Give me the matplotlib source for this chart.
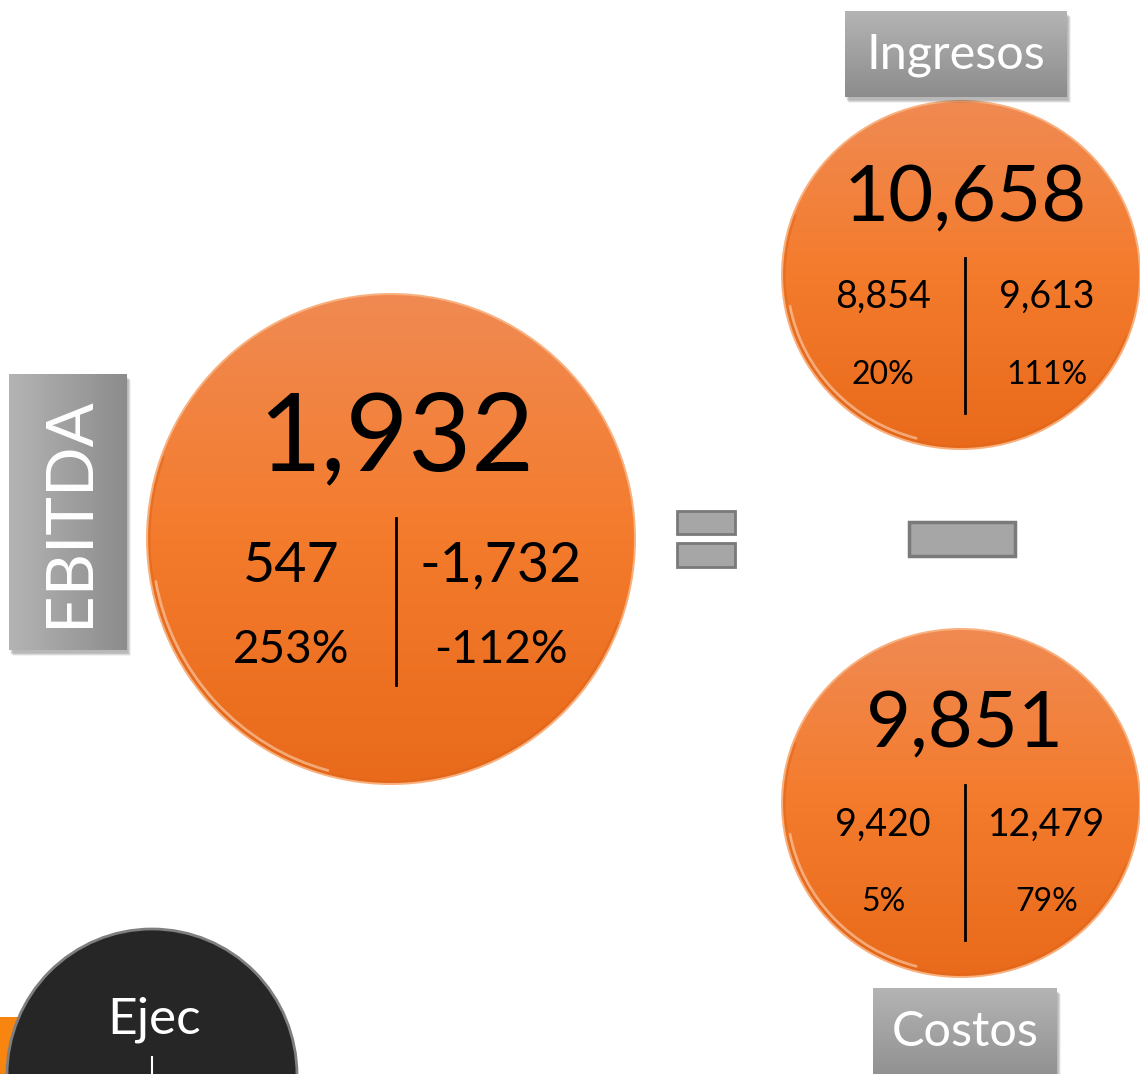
import numpy as np
import matplotlib.pyplot as plt
from matplotlib.patches import Ellipse, Rectangle, Arc

plt.rcParams['font.family'] = ['Lato', 'DejaVu Sans']

# chart values
titles = ["EBITDA", "Ingresos", "Costos"]
main_values = ["1,932", "10,658", "9,851"]
left_values = ["547", "8,854", "9,420"]
right_values = ["-1,732", "9,613", "12,479"]
left_pcts = ["253%", "20%", "5%"]
right_pcts = ["-112%", "111%", "79%"]
bottom_label = "Ejec"

W, H = 1140, 1074
fig = plt.figure(figsize=(W / 100, H / 100), dpi=100)
ax = fig.add_axes([0, 0, 1, 1])
ax.set_xlim(0, W)
ax.set_ylim(H, 0)
ax.axis('off')

orange_cmap = plt.matplotlib.colors.LinearSegmentedColormap.from_list(
	"orng", ["#f08a52", "#f47b2c", "#e96a1b"])
gray_cmap = plt.matplotlib.colors.LinearSegmentedColormap.from_list(
	"gry", ["#b4b4b4", "#a0a0a0", "#8c8c8c"])

grad = np.linspace(0, 1, 256).reshape(-1, 1)


def orange_ball(cx, cy, rx, ry):
	# soft outer edge
	ax.add_patch(Ellipse((cx, cy), 2 * rx + 4, 2 * ry + 4, fc="#f7b07e", ec="none", zorder=1))
	clip = Ellipse((cx, cy), 2 * rx, 2 * ry, fc="none", ec="none")
	ax.add_patch(clip)
	im = ax.imshow(grad, cmap=orange_cmap, aspect='auto',
		extent=(cx - rx, cx + rx, cy + ry, cy - ry), zorder=2)
	im.set_clip_path(clip)
	# rim highlight on lower left
	ax.add_patch(Arc((cx, cy), 2 * rx - 8, 2 * ry - 8, theta1=105, theta2=170,
		color="#fbd3b4", lw=2, alpha=0.6, zorder=3))
	ax.add_patch(Arc((cx, cy), 2 * rx - 3, 2 * ry - 3, theta1=20, theta2=200,
		color="#e0661a", lw=1.5, alpha=0.6, zorder=3))


def gray_box(x0, y0, w, h, horizontal=False):
	for k in range(6):
		ax.add_patch(Rectangle((x0 + 1 + k * 0.5, y0 + 3 + k * 0.6), w, h,
			fc="black", ec="none", alpha=0.05, zorder=4))
	clip = Rectangle((x0, y0), w, h, fc="none", ec="none")
	ax.add_patch(clip)
	g = grad.T if horizontal else grad
	im = ax.imshow(g, cmap=gray_cmap, aspect='auto',
		extent=(x0, x0 + w, y0 + h, y0), zorder=5)
	im.set_clip_path(clip)


def ball_text(cx, y_main, y_val, y_pct, dx, fs_main, fs_val, fs_pct, line_y, i):
	ax.text(cx, y_main, main_values[i], ha='center', va='center', fontsize=fs_main, color='black', zorder=6)
	ax.text(cx - dx, y_val, left_values[i], ha='center', va='center', fontsize=fs_val, color='black', zorder=6)
	ax.text(cx + dx, y_val, right_values[i], ha='center', va='center', fontsize=fs_val, color='black', zorder=6)
	ax.text(cx - dx, y_pct, left_pcts[i], ha='center', va='center', fontsize=fs_pct, color='black', zorder=6)
	ax.text(cx + dx, y_pct, right_pcts[i], ha='center', va='center', fontsize=fs_pct, color='black', zorder=6)
	ax.plot([cx, cx], line_y, color='black', lw=2, zorder=6)


# EBITDA ball
orange_ball(391, 539, 243, 244)
ball_text(396, 440, 566, 650, 105, 78, 40, 33, (518, 685), 0)

# Ingresos ball
orange_ball(961, 275, 178, 173)
ball_text(965, 200, 297, 375, 82, 56, 27, 23, (258, 413), 1)

# Costos ball
orange_ball(961, 803, 178, 173)
ball_text(965, 726, 825, 902, 82, 56, 27, 23, (785, 940), 2)

# labels
gray_box(9, 374, 118, 276, horizontal=True)
ax.text(70, 512, titles[0], rotation=90, ha='center', va='center', fontsize=47, color='white', zorder=6)
gray_box(845, 11, 222, 86)
ax.text(956, 55, titles[1], ha='center', va='center', fontsize=35, color='white', zorder=6)
gray_box(873, 988, 184, 100)
ax.text(965, 1032, titles[2], ha='center', va='center', fontsize=35, color='white', zorder=6)

# equals and minus signs
for y0, h in [(511, 23), (543, 24)]:
	ax.add_patch(Rectangle((677, y0), 58, h, fc="#a6a6a6", ec="#7a7a7a", lw=2, zorder=5))
ax.add_patch(Rectangle((909, 522), 106, 34, fc="#a6a6a6", ec="#7a7a7a", lw=2.5, zorder=5))

# partial dark ball at bottom
ax.add_patch(Rectangle((0, 1017), 40, 60, fc="#f7850f", ec="none", zorder=1))
ax.add_patch(Ellipse((152, 1075), 290, 292, fc="#262626", ec="#7f7f7f", lw=2, zorder=2))
ax.text(154, 1020, bottom_label, ha='center', va='center', fontsize=37, color='white', zorder=6)
ax.plot([152, 152], [1057, 1074], color='white', lw=1.5, zorder=6)

fig.savefig("out.png", dpi=100)
